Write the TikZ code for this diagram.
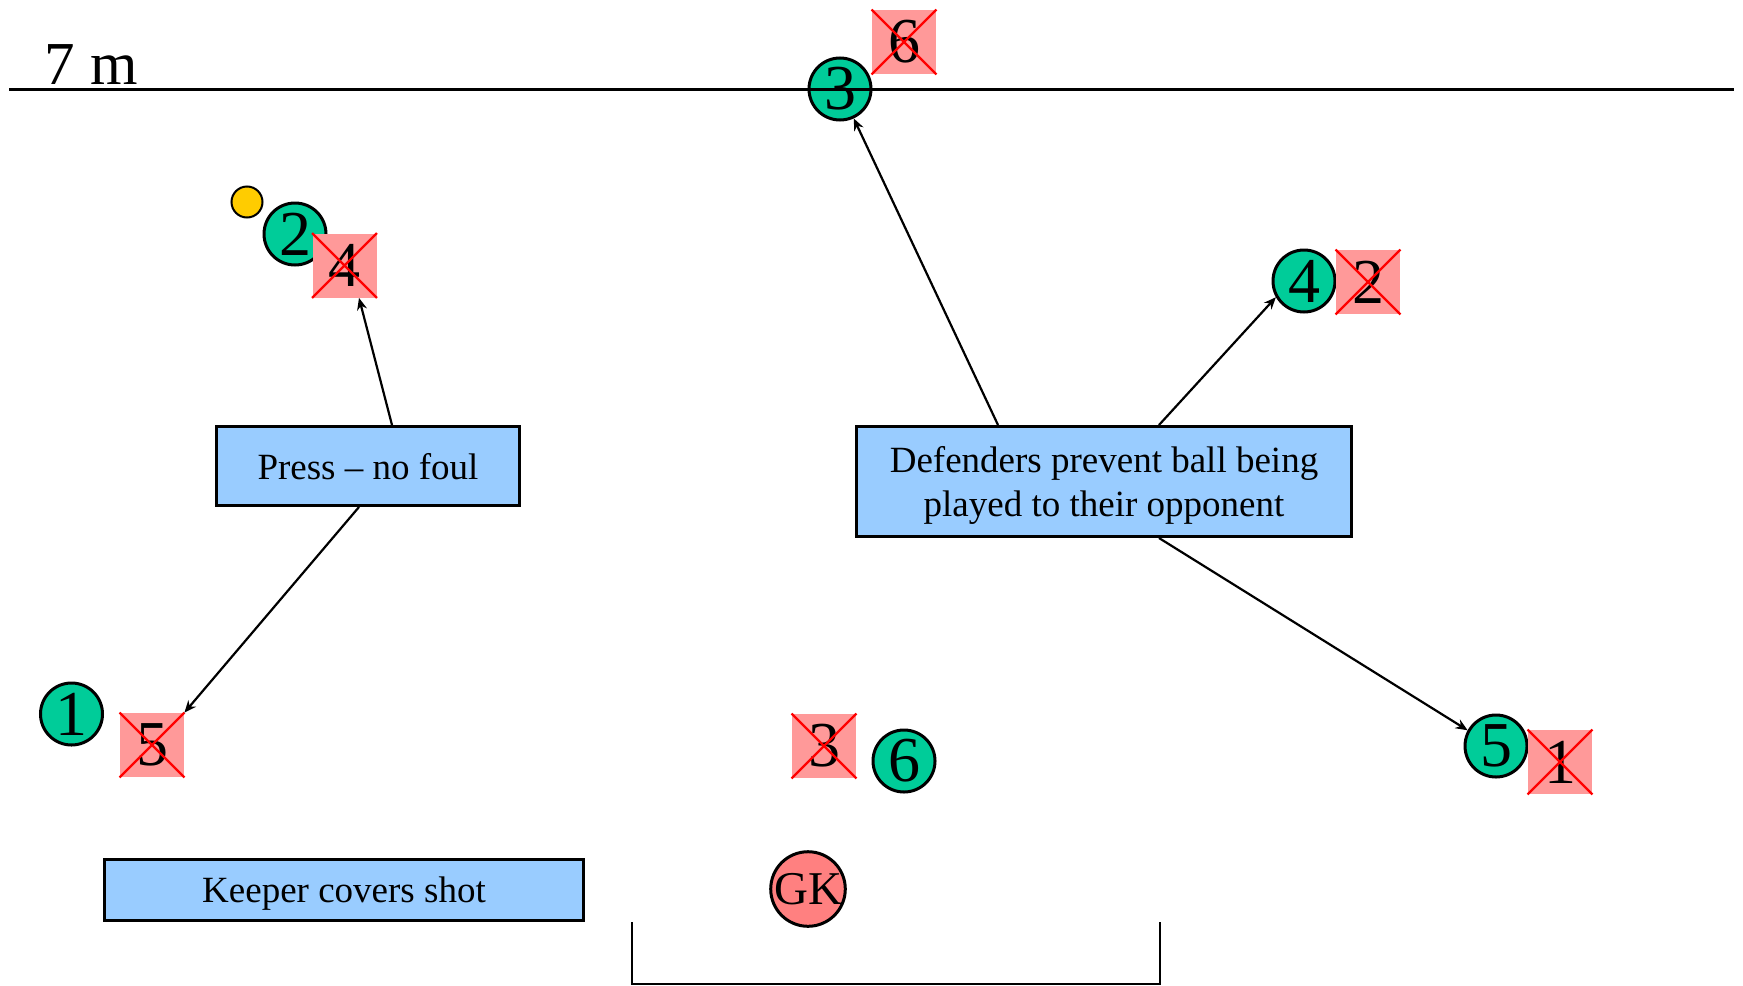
\documentclass[tikz,border=0pt]{standalone}
\usepackage{fontspec}
\setmainfont{Liberation Serif}
\usetikzlibrary{arrows.meta,calc}
\definecolor{teamgreen}{RGB}{0,204,153}
\definecolor{oppfill}{RGB}{255,153,153}
\definecolor{crossred}{RGB}{255,0,0}
\definecolor{notefill}{RGB}{153,204,255}
\definecolor{ballyellow}{RGB}{255,204,0}
\definecolor{keeperfill}{RGB}{255,128,128}

\begin{document}
\begin{tikzpicture}[x=0.5pt,y=-0.5pt,
  player/.style={circle,draw=black,line width=1.5pt,fill=teamgreen,
    minimum size=31pt,inner sep=0pt,font=\fontsize{32}{32}\selectfont},
  opponent/.style={rectangle,fill=oppfill,minimum size=32pt,inner sep=0pt,
    font=\fontsize{32}{32}\selectfont},
  strike/.style={draw=crossred,line width=1.2pt},
  note/.style={rectangle,draw=black,line width=1.5pt,fill=notefill,inner sep=0pt,
    text depth=0pt,align=center,font=\fontsize{18.5}{22}\selectfont},
  move/.style={draw=black,line width=1.1pt,-{Stealth[length=6pt,width=5pt]}}]

\useasboundingbox (0,0) rectangle (1743,985);

% 7 m line label
\node[anchor=base west,inner sep=0pt,font=\fontsize{30.5}{30.5}\selectfont] (sevenm) at (44,84) {7 m};

% defenders (green) and attackers (crossed pink)
\node[player] (c3) at (840,89) {3};
\node[opponent] (s6) at (904,42) {6};

\node[circle,draw=black,line width=1pt,fill=ballyellow,minimum size=15.5pt,inner sep=0pt] (ball) at (247,202) {};
\node[player] (c2) at (295,234) {2};
\node[opponent] (s4) at (344.5,265.5) {4};

\node[player] (c4) at (1304,281) {4};
\node[opponent] (s2) at (1368,282) {2};

\node[player] (c1) at (71.5,714) {1};
\node[opponent] (s5) at (152,745) {5};

\node[opponent] (s3) at (824,746) {3};
\node[player] (c6) at (904,761) {6};

\node[player] (c5) at (1496,746) {5};
\node[opponent] (s1) at (1560,762) {1};

\node[circle,draw=black,line width=1.5pt,fill=keeperfill,minimum size=32.5pt,inner sep=0pt,
  font=\fontsize{23.5}{23.5}\selectfont] (gk) at (808,889) {GK};

% crosses over the attackers
\foreach \s in {s1,s2,s3,s4,s5,s6}
  \draw[strike] (\s.north west) -- (\s.south east) (\s.north east) -- (\s.south west);

% 7 m line
\coordinate (lineL) at (9,89);
\coordinate (lineR) at (1734,89);
\draw[line width=1.5pt] (lineL) -- (lineR);

% goal
\coordinate (postL) at (632,922);
\coordinate (postR) at (1160,922);
\draw[line width=1pt] (postL) -- ++(0,62) -| (postR);

% notes
\node[note,minimum width=151.5pt,minimum height=39.5pt] (press) at (368,466) {Press -- no foul};
\node[note,minimum width=247.5pt,minimum height=55pt] (defend) at (1104,481.5)
  {Defenders prevent ball being\\played to their opponent};
\node[note,minimum width=239.5pt,minimum height=30.5pt] (keeper) at (344,890) {Keeper covers shot};

% movements
\draw[move] ($(press.north)+(24,0)$) -- ($(s4.south)+(14.5,0)$);
\draw[move] ($(press.south)+(-9,0)$) -- (s5.north east);
\draw[move] ($(defend.north)+(-106,0)$) -- (c3.-65);
\draw[move] ($(defend.north)+(55,0)$) -- (c4.210);
\draw[move] ($(defend.south)+(55,0)$) -- (c5.151);

\end{tikzpicture}
\end{document}
